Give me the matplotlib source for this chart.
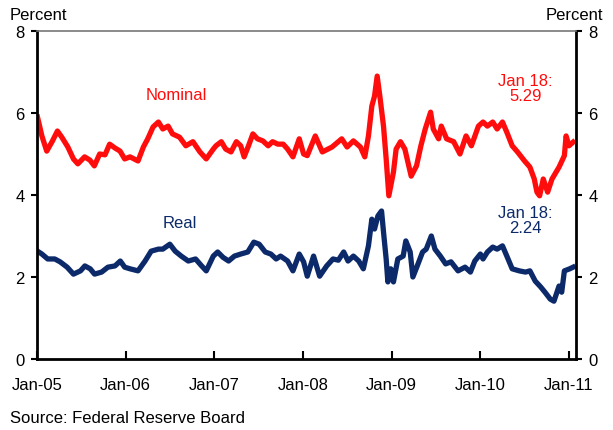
import matplotlib
matplotlib.use("Agg")
import matplotlib.pyplot as plt
import pandas as pd

plt.rcParams['font.family'] = ['Liberation Sans', 'DejaVu Sans']

# values (percent)
nominal_dates = ['2005-01-03', '2005-01-21', '2005-02-10', '2005-03-04', '2005-03-26', '2005-04-13',
                 '2005-05-08', '2005-05-31', '2005-06-18', '2005-07-16', '2005-08-07', '2005-08-25',
                 '2005-09-16', '2005-10-08', '2005-10-27', '2005-11-17', '2005-12-09', '2005-12-28',
                 '2006-01-19', '2006-02-21', '2006-03-15', '2006-04-02', '2006-04-24', '2006-05-16',
                 '2006-06-03', '2006-06-25', '2006-07-13', '2006-08-11', '2006-09-06', '2006-10-05',
                 '2006-11-03', '2006-11-29', '2006-12-28', '2007-01-08', '2007-01-30', '2007-02-17',
                 '2007-03-11', '2007-04-02', '2007-04-20', '2007-05-04', '2007-05-22', '2007-06-09',
                 '2007-06-28', '2007-07-20', '2007-08-11', '2007-08-29', '2007-09-20', '2007-10-12',
                 '2007-10-30', '2007-11-21', '2007-12-17', '2008-01-04', '2008-01-19', '2008-02-21',
                 '2008-03-21', '2008-04-30', '2008-06-09', '2008-07-01', '2008-07-27', '2008-08-25',
                 '2008-09-12', '2008-09-27', '2008-10-11', '2008-10-22', '2008-11-02', '2008-11-13',
                 '2008-11-28', '2008-12-09', '2008-12-20', '2009-01-08', '2009-01-19', '2009-02-06',
                 '2009-02-24', '2009-03-22', '2009-04-13', '2009-05-01', '2009-05-19', '2009-06-10',
                 '2009-06-21', '2009-07-13', '2009-07-24', '2009-08-15', '2009-09-13', '2009-10-09',
                 '2009-11-03', '2009-11-25', '2009-12-24', '2010-01-12', '2010-01-30', '2010-02-21',
                 '2010-03-11', '2010-04-02', '2010-04-20', '2010-05-12', '2010-06-03', '2010-07-02',
                 '2010-07-24', '2010-08-11', '2010-08-22', '2010-09-02', '2010-09-17', '2010-10-05',
                 '2010-10-23', '2010-11-21', '2010-12-13', '2010-12-20', '2011-01-01', '2011-01-18']
nominal = [5.90, 5.44, 5.07, 5.30, 5.56, 5.41,
           5.17, 4.88, 4.76, 4.93, 4.85, 4.71,
           5.00, 4.98, 5.24, 5.15, 5.07, 4.88,
           4.93, 4.83, 5.17, 5.37, 5.66, 5.78,
           5.61, 5.68, 5.49, 5.41, 5.20, 5.30,
           5.05, 4.88, 5.12, 5.20, 5.30, 5.12,
           5.05, 5.30, 5.20, 4.93, 5.20, 5.49,
           5.37, 5.32, 5.20, 5.30, 5.24, 5.24,
           5.12, 4.93, 5.37, 5.00, 4.96, 5.44,
           5.05, 5.17, 5.37, 5.17, 5.32, 5.17,
           4.93, 5.44, 6.17, 6.41, 6.90, 6.41,
           5.68, 4.88, 3.98, 4.56, 5.12, 5.30,
           5.12, 4.46, 4.71, 5.20, 5.61, 6.02,
           5.61, 5.37, 5.68, 5.37, 5.30, 5.00,
           5.44, 5.20, 5.68, 5.78, 5.68, 5.78,
           5.61, 5.78, 5.53, 5.20, 5.05, 4.83,
           4.68, 4.39, 4.07, 3.98, 4.39, 4.07,
           4.39, 4.68, 4.96, 5.44, 5.20, 5.29]

real_dates = ['2005-01-03', '2005-01-21', '2005-02-14', '2005-03-15', '2005-04-06', '2005-05-05',
              '2005-05-31', '2005-06-29', '2005-07-17', '2005-08-08', '2005-08-26', '2005-09-24',
              '2005-10-20', '2005-11-18', '2005-12-10', '2005-12-28', '2006-01-19', '2006-02-21',
              '2006-03-22', '2006-04-16', '2006-05-16', '2006-06-03', '2006-07-02', '2006-07-24',
              '2006-08-18', '2006-09-16', '2006-10-16', '2006-11-10', '2006-11-29', '2006-12-28',
              '2007-01-15', '2007-02-06', '2007-03-01', '2007-03-25', '2007-04-20', '2007-05-19',
              '2007-06-13', '2007-07-05', '2007-07-30', '2007-08-22', '2007-09-13', '2007-10-01',
              '2007-10-30', '2007-11-21', '2007-12-17', '2008-01-04', '2008-01-19', '2008-02-14',
              '2008-03-10', '2008-04-08', '2008-05-04', '2008-05-26', '2008-06-17', '2008-07-05',
              '2008-07-27', '2008-08-18', '2008-09-06', '2008-09-27', '2008-10-11', '2008-10-22',
              '2008-11-05', '2008-11-20', '2008-11-28', '2008-12-09', '2008-12-16', '2008-12-28',
              '2009-01-08', '2009-01-26', '2009-02-17', '2009-02-28', '2009-03-18', '2009-03-29',
              '2009-04-16', '2009-05-08', '2009-05-23', '2009-06-13', '2009-06-28', '2009-07-20',
              '2009-08-11', '2009-09-02', '2009-10-01', '2009-10-30', '2009-11-21', '2009-12-09',
              '2010-01-01', '2010-01-12', '2010-01-30', '2010-02-21', '2010-03-11', '2010-04-02',
              '2010-04-20', '2010-05-12', '2010-06-10', '2010-07-06', '2010-07-24', '2010-08-15',
              '2010-09-06', '2010-09-24', '2010-10-16', '2010-10-31', '2010-11-21', '2010-12-02',
              '2010-12-13', '2011-01-04', '2011-01-18']
real = [2.63, 2.56, 2.44, 2.44, 2.37, 2.24,
        2.07, 2.15, 2.27, 2.20, 2.07, 2.12,
        2.24, 2.27, 2.39, 2.24, 2.20, 2.15,
        2.39, 2.63, 2.68, 2.68, 2.80, 2.63,
        2.51, 2.39, 2.44, 2.27, 2.15, 2.51,
        2.61, 2.48, 2.39, 2.51, 2.56, 2.61,
        2.85, 2.80, 2.61, 2.56, 2.44, 2.51,
        2.39, 2.15, 2.56, 2.37, 2.02, 2.51,
        2.02, 2.27, 2.44, 2.41, 2.61, 2.39,
        2.51, 2.39, 2.20, 2.76, 3.41, 3.17,
        3.49, 3.61, 3.10, 2.44, 1.88, 2.20,
        1.88, 2.44, 2.51, 2.88, 2.61, 2.00,
        2.27, 2.61, 2.68, 3.00, 2.68, 2.51,
        2.32, 2.37, 2.15, 2.24, 2.12, 2.39,
        2.56, 2.44, 2.61, 2.73, 2.68, 2.76,
        2.51, 2.20, 2.15, 2.12, 2.15, 1.90,
        1.76, 1.63, 1.46, 1.41, 1.78, 1.63,
        2.15, 2.20, 2.24]

tick_dates = ['2005-01-01', '2006-01-01', '2007-01-01', '2008-01-01',
              '2009-01-01', '2010-01-01', '2011-01-01']
tick_labels = ['Jan-05', 'Jan-06', 'Jan-07', 'Jan-08', 'Jan-09', 'Jan-10', 'Jan-11']
y_ticks = [0, 2, 4, 6, 8]

red = '#ff0d0d'
navy = '#0c2a6a'

fig = plt.figure(figsize=(6.13, 4.31), dpi=100)
ax = fig.add_axes([0.0604, 0.1647, 0.8793, 0.7611])

ax.plot(pd.to_datetime(nominal_dates), nominal, color=red, lw=3.8, solid_joinstyle='round')
ax.plot(pd.to_datetime(real_dates), real, color=navy, lw=3.8, solid_joinstyle='round')

ax.set_ylim(0, 8)
ax.set_xlim(pd.Timestamp('2005-01-01'), pd.Timestamp('2011-01-30'))
ax.set_yticks(y_ticks)
ax.set_yticklabels([str(v) for v in y_ticks])
ax.set_xticks(pd.to_datetime(tick_dates))
ax.set_xticklabels(tick_labels)

ax.tick_params(axis='x', direction='in', length=6, width=1.5, pad=13, labelsize=12)
ax.tick_params(axis='y', direction='out', length=4, width=1.5, pad=5, labelsize=12,
               right=True, labelright=True)

for side in ['left', 'bottom', 'right']:
    ax.spines[side].set_linewidth(2)
    ax.spines[side].set_color('black')
ax.spines['top'].set_linewidth(1.2)
ax.spines['top'].set_color('#777777')

# labels
ax.text(pd.Timestamp('2006-07-27'), 6.46, 'Nominal', color=red, fontsize=12, ha='center', va='center')
ax.text(pd.Timestamp('2006-08-11'), 3.32, 'Real', color=navy, fontsize=12, ha='center', va='center')
ax.text(pd.Timestamp('2010-07-05'), 6.61, 'Jan 18:\n5.29', color=red, fontsize=12,
        ha='center', va='center', linespacing=1.0)
ax.text(pd.Timestamp('2010-07-05'), 3.39, 'Jan 18:\n2.24', color=navy, fontsize=12,
        ha='center', va='center', linespacing=1.0)

fig.text(10 / 613, 1 - 20 / 431, 'Percent', fontsize=12, ha='left', va='baseline')
fig.text(603 / 613, 1 - 20 / 431, 'Percent', fontsize=12, ha='right', va='baseline')
fig.text(10 / 613, 1 - 423 / 431, 'Source: Federal Reserve Board', fontsize=12,
         ha='left', va='baseline')

fig.savefig('out.png', dpi=100)
